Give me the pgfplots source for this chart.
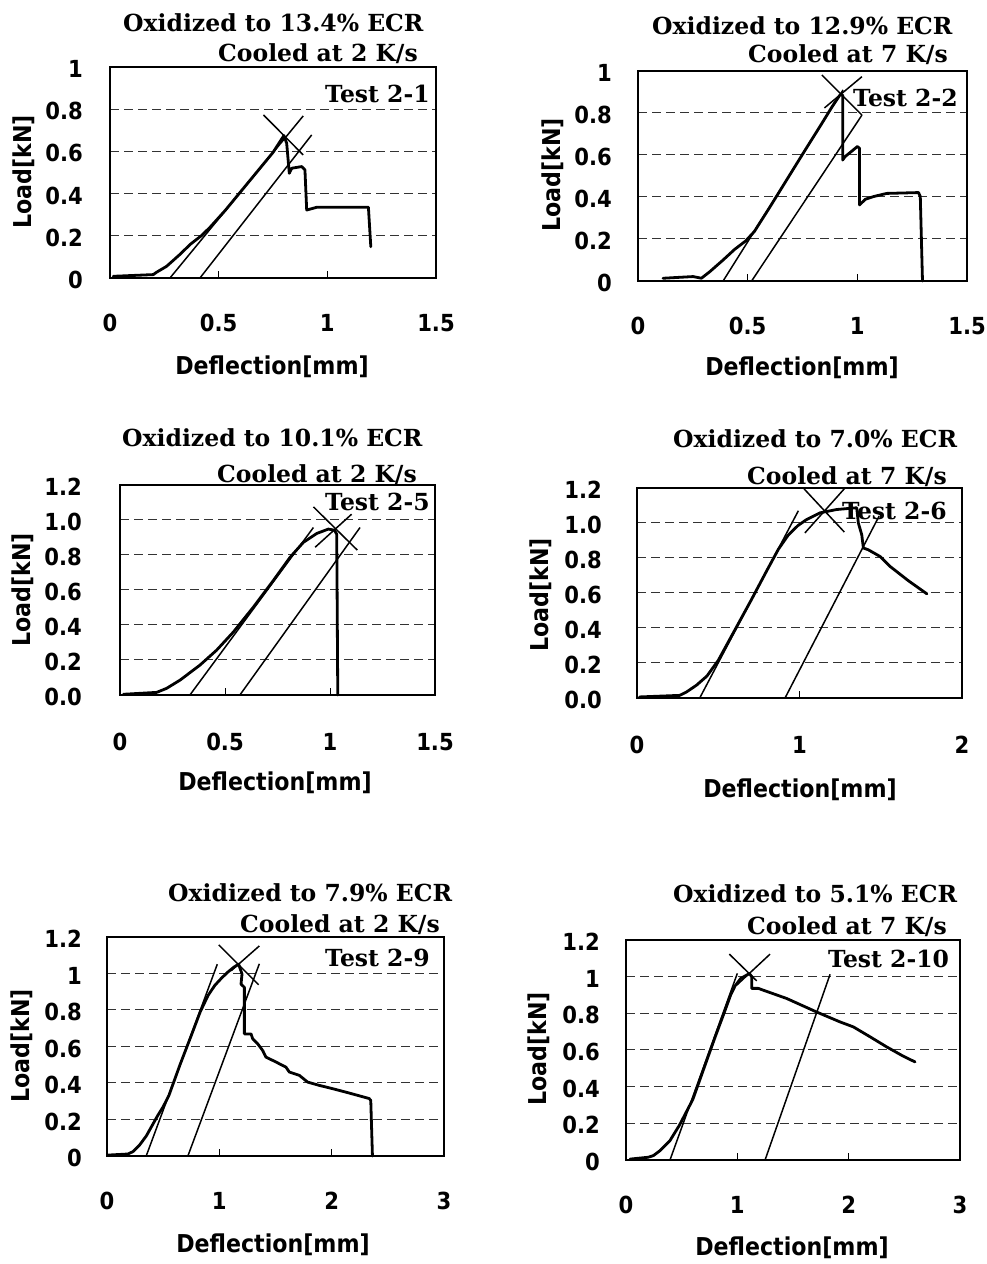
\documentclass[border=0pt]{standalone}
\usepackage{fontspec}
\usepackage{pgfplots}
\pgfplotsset{compat=1.18}
\setmainfont{DejaVu Serif}
\IfFontExistsTF{DejaVu Sans Condensed Bold}
  {\newfontfamily\sansB{DejaVu Sans Condensed Bold}}
  {\newfontfamily\sansB{DejaVu Sans}[FakeStretch=0.9,UprightFont=*Bold]}
\newcommand\ticksfont{\sansB\fontsize{23.5bp}{26bp}\selectfont}
\newcommand\labfont{\sansB\fontsize{24.6bp}{28bp}\selectfont}
\newcommand\titfont{\bfseries\fontsize{23.5bp}{26bp}\selectfont}
\pgfplotsset{
  panel/.style={
    scale only axis, clip=false,
    axis line style={line width=1.8bp},
    ymajorgrids,
    grid style={line width=1bp, dash pattern=on 9bp off 5bp, black!80},
    tick align=inside, xtick pos=bottom, ytick pos=left,
    major tick length=7bp,
    xtick style={line width=1bp, black},
    ytick style={draw=none},
    tick label style={font=\ticksfont},
    /pgf/number format/assume math mode=true,
    xticklabel style={anchor=center, yshift=-45bp},
    yticklabel style={anchor=east, inner sep=0pt, yshift=-2bp},
  },
  curve/.style={black, line width=2.8bp, line join=round, line cap=round},
  tan/.style={black, line width=1.5bp},
}
\begin{document}
\begin{tikzpicture}[x=1bp,y=1bp]
\useasboundingbox (0,0) rectangle (987,1264);

% ---------------- Panel 1 ----------------
\begin{axis}[panel, at={(110bp,986bp)}, anchor=south west, width=326bp, height=211bp,
  xmin=0, xmax=1.5, ymin=0, ymax=1, xtick={0,0.5,1,1.5}, ytick={0,0.2,0.4,0.6,0.8,1},
  yticklabel style={xshift=-27bp}]
\addplot[curve] coordinates {(0.015,0.008)(0.199,0.016)(0.214,0.027)(0.26,0.055)(0.32,0.11)(0.37,0.16)(0.42,0.2)(0.46,0.24)(0.53,0.32)(0.61,0.42)(0.69,0.52)(0.75,0.595)(0.80,0.675)(0.813,0.638)(0.825,0.496)(0.836,0.52)(0.882,0.528)(0.897,0.512)(0.905,0.322)(0.951,0.335)(1.189,0.335)(1.2,0.148)};
\addplot[tan] coordinates {(0.276,0)(0.889,0.768)};
\addplot[tan] coordinates {(0.414,0)(0.928,0.678)};
\addplot[tan] coordinates {(0.706,0.773)(0.889,0.583)};
\end{axis}

% ---------------- Panel 2 ----------------
\begin{axis}[panel, at={(638bp,983bp)}, anchor=south west, width=329bp, height=210bp,
  xmin=0, xmax=1.5, ymin=0, ymax=1, xtick={0,0.5,1,1.5}, ytick={0,0.2,0.4,0.6,0.8,1},
  yticklabel style={xshift=-26bp}]
\addplot[curve] coordinates {(0.114,0.013)(0.251,0.021)(0.289,0.013)(0.327,0.044)(0.388,0.1)(0.44,0.15)(0.49,0.19)(0.53,0.235)(0.6,0.35)(0.68,0.485)(0.76,0.62)(0.835,0.745)(0.885,0.83)(0.921,0.886)(0.933,0.886)(0.933,0.576)(0.944,0.592)(1.0,0.64)(1.01,0.632)(1.01,0.362)(1.036,0.389)(1.074,0.402)(1.134,0.417)(1.279,0.421)(1.287,0.402)(1.297,0)};
\addplot[tan] coordinates {(0.388,0)(0.935,0.91)};
\addplot[tan] coordinates {(0.518,0)(1.021,0.79)};
\addplot[tan] coordinates {(0.838,0.981)(1.021,0.79)};
\addplot[tan] coordinates {(0.85,0.824)(1.021,0.973)};
\end{axis}

% ---------------- Panel 3 ----------------
\begin{axis}[panel, at={(120bp,569bp)}, anchor=south west, width=315bp, height=210bp,
  xmin=0, xmax=1.5, ymin=0, ymax=1.2, xtick={0,0.5,1,1.5}, ytick={0,0.2,0.4,0.6,0.8,1,1.2},
  yticklabel style={xshift=-38bp, /pgf/number format/.cd, fixed, fixed zerofill, precision=1},
  xticklabel style={yshift=-2bp}]
\addplot[curve] coordinates {(0.016,0.004)(0.175,0.015)(0.222,0.038)(0.286,0.085)(0.381,0.171)(0.46,0.256)(0.54,0.36)(0.635,0.502)(0.73,0.654)(0.81,0.787)(0.873,0.872)(0.937,0.923)(0.992,0.948)(1.021,0.942)(1.032,0.919)(1.037,0)};
\addplot[tan] coordinates {(0.333,0)(0.921,0.957)};
\addplot[tan] coordinates {(0.571,0)(1.143,0.957)};
\addplot[tan] coordinates {(0.921,1.075)(1.13,0.828)};
\addplot[tan] coordinates {(0.929,0.844)(1.103,1.033)};
\end{axis}

% ---------------- Panel 4 ----------------
\begin{axis}[panel, at={(637bp,566bp)}, anchor=south west, width=325bp, height=210bp,
  xmin=0, xmax=2, ymin=0, ymax=1.2, xtick={0,1,2}, ytick={0,0.2,0.4,0.6,0.8,1,1.2},
  yticklabel style={xshift=-35bp, /pgf/number format/.cd, fixed, fixed zerofill, precision=1},
  xticklabel style={yshift=-2bp}]
\addplot[curve] coordinates {(0.016,0.006)(0.263,0.015)(0.304,0.034)(0.366,0.073)(0.43,0.125)(0.5,0.215)(0.6,0.385)(0.7,0.555)(0.8,0.73)(0.87,0.85)(0.93,0.93)(0.99,0.985)(1.044,1.02)(1.126,1.058)(1.229,1.077)(1.352,1.087)(1.362,1.0)(1.383,0.933)(1.393,0.857)(1.423,0.847)(1.495,0.809)(1.557,0.752)(1.67,0.67)(1.784,0.595)};
\addplot[tan] coordinates {(0.386,0)(0.993,1.07)};
\addplot[tan] coordinates {(0.911,0)(1.49,1.04)};
\addplot[tan] coordinates {(1.028,1.195)(1.276,0.948)};
\addplot[tan] coordinates {(1.033,0.943)(1.28,1.2)};
\end{axis}

% ---------------- Panel 5 ----------------
\begin{axis}[panel, at={(107bp,108bp)}, anchor=south west, width=337bp, height=219bp,
  xmin=0, xmax=3, ymin=0, ymax=1.2, xtick={0,1,2,3}, ytick={0,0.2,0.4,0.6,0.8,1,1.2},
  yticklabel style={xshift=-25bp}]
\addplot[curve] coordinates {(0.009,0.005)(0.187,0.011)(0.231,0.024)(0.29,0.06)(0.35,0.11)(0.40,0.165)(0.45,0.22)(0.50,0.27)(0.55,0.33)(0.65,0.5)(0.75,0.66)(0.83,0.79)(0.9,0.88)(0.96,0.935)(1.02,0.975)(1.08,1.01)(1.13,1.035)(1.172,1.051)(1.202,0.997)(1.193,0.942)(1.223,0.924)(1.223,0.669)(1.282,0.669)(1.297,0.642)(1.341,0.615)(1.386,0.578)(1.415,0.542)(1.504,0.515)(1.593,0.487)(1.623,0.46)(1.712,0.442)(1.786,0.405)(1.889,0.387)(2.008,0.369)(2.156,0.345)(2.333,0.315)(2.348,0.305)(2.363,0)};
\addplot[tan] coordinates {(0.349,0)(0.982,1.051)};
\addplot[tan] coordinates {(0.72,0)(1.356,1.053)};
\addplot[tan] coordinates {(0.995,1.157)(1.35,0.938)};
\addplot[tan] coordinates {(1.105,1.015)(1.356,1.151)};
\end{axis}

% ---------------- Panel 6 ----------------
\begin{axis}[panel, at={(626bp,104bp)}, anchor=south west, width=334bp, height=220bp,
  xmin=0, xmax=3, ymin=0, ymax=1.2, xtick={0,1,2,3}, ytick={0,0.2,0.4,0.6,0.8,1,1.2},
  yticklabel style={xshift=-26bp}]
\addplot[curve] coordinates {(0.036,0.005)(0.2,0.015)(0.246,0.024)(0.305,0.051)(0.395,0.106)(0.48,0.19)(0.6,0.33)(0.7,0.5)(0.8,0.67)(0.88,0.8)(0.94,0.9)(0.98,0.95)(1.03,0.99)(1.108,1.017)(1.129,1.0)(1.129,0.936)(1.189,0.936)(1.234,0.926)(1.443,0.881)(1.713,0.807)(1.923,0.753)(2.042,0.726)(2.192,0.672)(2.341,0.617)(2.491,0.566)(2.596,0.535)};
\addplot[tan] coordinates {(0.395,0)(1.0,1.018)};
\addplot[tan] coordinates {(1.249,0)(1.833,1.013)};
\addplot[tan] coordinates {(0.928,1.123)(1.174,0.977)};
\addplot[tan] coordinates {(0.995,0.954)(1.294,1.123)};
\end{axis}

% ---------------- Titles and labels ----------------
\begin{scope}[every node/.style={inner sep=0pt, anchor=base west}]
\node[font=\titfont] at (123,1232.3) {Oxidized to 13.4\% ECR};
\node[font=\titfont] at (218,1202.3) {Cooled at 2 K/s};
\node[font=\titfont] at (325,1161) {Test 2-1};
\node[font=\titfont] at (652,1229) {Oxidized to 12.9\% ECR};
\node[font=\titfont] at (748,1201) {Cooled at 7 K/s};
\node[font=\titfont] at (853,1157) {Test 2-2};
\node[font=\titfont] at (122,817) {Oxidized to 10.1\% ECR};
\node[font=\titfont] at (217,781) {Cooled at 2 K/s};
\node[font=\titfont] at (325,753) {Test 2-5};
\node[font=\titfont] at (673,816) {Oxidized to 7.0\% ECR};
\node[font=\titfont] at (747,779) {Cooled at 7 K/s};
\node[font=\titfont] at (842,744) {Test 2-6};
\node[font=\titfont] at (168,362) {Oxidized to 7.9\% ECR};
\node[font=\titfont] at (240,331) {Cooled at 2 K/s};
\node[font=\titfont] at (325,297) {Test 2-9};
\node[font=\titfont] at (673,361) {Oxidized to 5.1\% ECR};
\node[font=\titfont] at (747,329) {Cooled at 7 K/s};
\node[font=\titfont] at (828,296) {Test 2-10};
\end{scope}
\begin{scope}[every node/.style={inner sep=0pt, anchor=center, font=\labfont}]
\node at (272,897) {Deflection[mm]};
\node[rotate=90] at (24,1092) {Load[kN]};
\node at (802,896) {Deflection[mm]};
\node[rotate=90] at (553,1089) {Load[kN]};
\node at (275,481) {Deflection[mm]};
\node[rotate=90] at (23,674) {Load[kN]};
\node at (800,474) {Deflection[mm]};
\node[rotate=90] at (541,669) {Load[kN]};
\node at (273,19) {Deflection[mm]};
\node[rotate=90] at (22,218) {Load[kN]};
\node at (792,16) {Deflection[mm]};
\node[rotate=90] at (539,215) {Load[kN]};
\end{scope}
\end{tikzpicture}
\end{document}
